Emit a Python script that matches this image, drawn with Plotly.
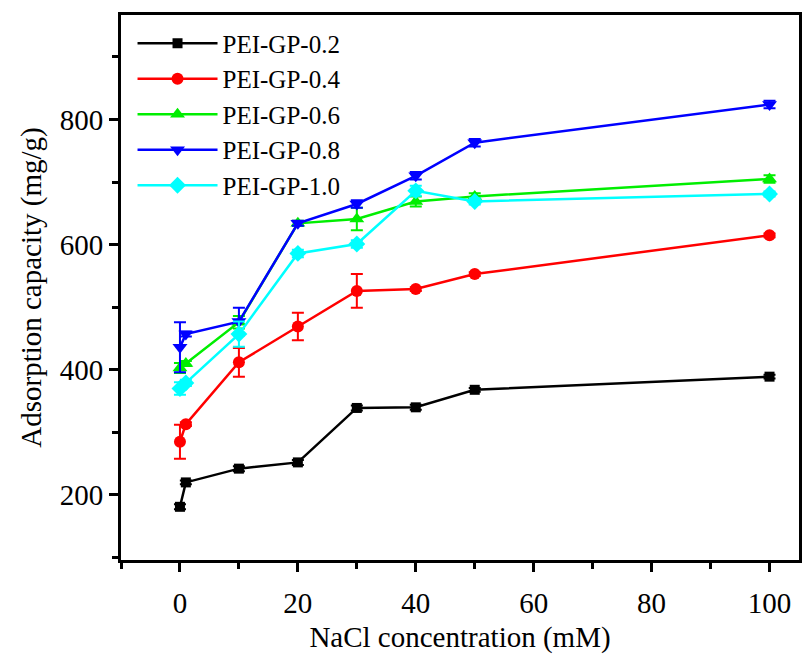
import plotly.graph_objects as go

# NaCl concentration (mM)
nacl = [0, 1, 10, 20, 30, 40, 50, 100]

# Adsorption capacity (mg/g) and standard deviations for each adsorbent
gp02 = [181, 220, 242, 252, 339, 340, 368, 389]
gp02_err = [4, 3, 4, 4, 4, 4, 3, 3]
gp04 = [285, 313, 412, 469, 526, 529, 553, 615]
gp04_err = [27, 3, 23, 22, 27, 3, 3, 3]
gp06 = [403, 410, 476, 634, 641, 669, 677, 705]
gp06_err = [8, 4, 10, 4, 18, 8, 5, 6]
gp08 = [436, 457, 477, 634, 665, 710, 763, 824]
gp08_err = [40, 4, 22, 4, 6, 6, 6, 6]
gp10 = [370, 379, 457, 586, 601, 686, 669, 681]
gp10_err = [10, 5, 20, 6, 6, 8, 5, 4]

series = [
    ("PEI-GP-0.2", gp02, gp02_err, "#000000", "square", 10),
    ("PEI-GP-0.4", gp04, gp04_err, "#ff0000", "circle", 12),
    ("PEI-GP-0.6", gp06, gp06_err, "#00ee00", "triangle-up", 13),
    ("PEI-GP-0.8", gp08, gp08_err, "#0000ff", "triangle-down", 13),
    ("PEI-GP-1.0", gp10, gp10_err, "#00ffff", "diamond", 13),
]

fig = go.Figure()
for name, vals, errs, color, symbol, size in series:
    fig.add_trace(go.Scatter(
        x=nacl, y=vals, name=name, mode="lines+markers",
        line=dict(color=color, width=2.5),
        marker=dict(symbol=symbol, size=size, color=color),
        error_y=dict(type="data", array=errs, visible=True,
                     color=color, thickness=2, width=6),
    ))

font_family = "Liberation Serif, Times New Roman, serif"
axis_common = dict(
    showline=True, linecolor="black", linewidth=3, mirror=True,
    ticks="outside", ticklen=9, tickwidth=3, tickcolor="black",
    showgrid=False, zeroline=False,
    tickfont=dict(family=font_family, size=29, color="black"),
)

fig.update_layout(
    width=804, height=654,
    margin=dict(l=121, r=2, t=15, b=94),
    paper_bgcolor="white", plot_bgcolor="white",
    font=dict(family=font_family, size=28, color="black"),
    showlegend=True,
    legend=dict(
        x=0.017, y=0.99, xanchor="left", yanchor="top",
        bgcolor="rgba(0,0,0,0)", borderwidth=0,
        font=dict(family=font_family, size=25, color="black"),
        itemwidth=80, tracegroupgap=0,
    ),
    xaxis=dict(
        range=[-10, 105], dtick=20, tick0=0,
        minor=dict(dtick=10, tick0=0, ticks="outside", ticklen=6,
                   tickwidth=3, tickcolor="black"),
        ticklabelstandoff=6,
        title=dict(text="NaCl concentration (mM)", standoff=10,
                   font=dict(family=font_family, size=29)),
        **axis_common,
    ),
    yaxis=dict(
        range=[96, 967], dtick=200, tick0=0,
        minor=dict(dtick=100, tick0=0, ticks="outside", ticklen=6,
                   tickwidth=3, tickcolor="black"),
        title=dict(text="Adsorption capacity (mg/g)", standoff=10,
                   font=dict(family=font_family, size=29)),
        **axis_common,
    ),
)

fig.write_html("out.html")
